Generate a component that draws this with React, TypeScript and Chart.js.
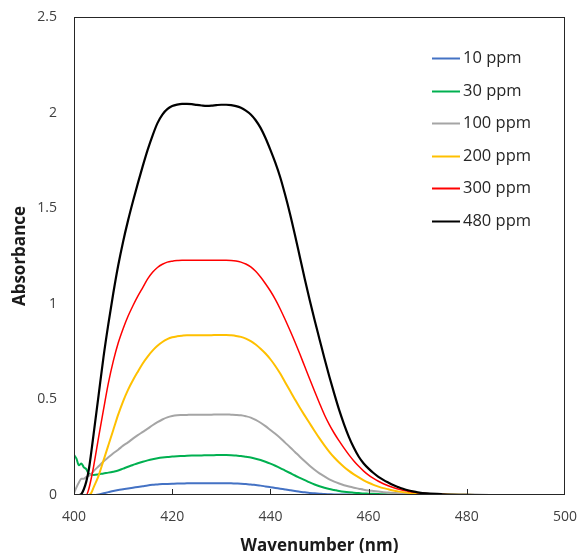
import React, { useEffect, useRef } from "react";
import { Chart, registerables } from "chart.js";

Chart.register(...registerables);

// Wavelength axis (nm)
const wavelengths: number[] = [
  400, 400.5, 401, 401.5, 402, 402.5, 403, 403.5,
  404, 405, 406, 407, 408, 409, 410, 411, 412, 413,
  414, 415, 416, 417, 418, 419, 420, 421, 422, 423,
  424, 425, 426, 427, 428, 429, 430, 431, 432, 433,
  434, 435, 436, 437, 438, 439, 440, 441, 442, 443,
  444, 445, 446, 447, 448, 449, 450, 451, 452, 453,
  454, 455, 456, 457, 458, 459, 460, 461, 462, 463,
  464, 465, 466, 467, 468, 469, 470,
  472, 475, 480, 485, 490, 495, 500,
];

const seriesLabels: string[] = ["10 ppm", "30 ppm", "100 ppm", "200 ppm", "300 ppm", "480 ppm"];
const seriesColors: string[] = ["#4472C4", "#00B050", "#A5A5A5", "#FFC000", "#FF0000", "#000000"];
const seriesWidths: number[] = [2, 2, 2, 2, 1.5, 2.2];

const ppm10: number[] = [
  0, 0, 0, 0, 0, 0, 0, 0,
  0, 0.003, 0.009, 0.015, 0.021, 0.026, 0.03, 0.034, 0.038, 0.042,
  0.046, 0.05, 0.053, 0.055, 0.057, 0.058, 0.059, 0.06, 0.06, 0.061,
  0.061, 0.061, 0.061, 0.062, 0.062, 0.062, 0.062, 0.062, 0.061, 0.06,
  0.059, 0.057, 0.055, 0.052, 0.049, 0.045, 0.041, 0.037, 0.033, 0.029,
  0.025, 0.021, 0.017, 0.014, 0.011, 0.009, 0.007, 0.005, 0.004, 0.003,
  0.003, 0.002, 0.002, 0.001, 0.001, 0.001, 0.001, 0, 0, 0,
  0, 0, 0, 0, 0, 0, 0,
  0, 0, 0, 0, 0, 0, 0,
];

const ppm30: number[] = [
  0.21, 0.19, 0.155, 0.165, 0.145, 0.135, 0.112, 0.108,
  0.105, 0.108, 0.113, 0.117, 0.122, 0.128, 0.138, 0.148, 0.157, 0.166,
  0.174, 0.181, 0.187, 0.192, 0.196, 0.199, 0.201, 0.203, 0.204, 0.205,
  0.206, 0.207, 0.207, 0.208, 0.208, 0.209, 0.209, 0.209, 0.208, 0.206,
  0.204, 0.2, 0.196, 0.19, 0.183, 0.174, 0.164, 0.153, 0.141, 0.128,
  0.115, 0.102, 0.09, 0.078, 0.066, 0.055, 0.046, 0.038, 0.031, 0.026,
  0.021, 0.017, 0.014, 0.012, 0.01, 0.008, 0.007, 0.006, 0.005, 0.004,
  0.003, 0.003, 0.002, 0.002, 0.002, 0.001, 0.001,
  0.001, 0, 0, 0, 0, 0, 0,
];

const ppm100: number[] = [
  0.01, 0.04, 0.065, 0.085, 0.085, 0.095, 0.1, 0.11,
  0.125, 0.15, 0.175, 0.197, 0.218, 0.237, 0.258, 0.275, 0.295, 0.313,
  0.33, 0.347, 0.365, 0.381, 0.395, 0.406, 0.413, 0.417, 0.418, 0.419,
  0.42, 0.42, 0.42, 0.42, 0.42, 0.421, 0.421, 0.421, 0.42, 0.419,
  0.417, 0.412, 0.405, 0.393, 0.378, 0.36, 0.34, 0.32, 0.298, 0.274,
  0.25, 0.225, 0.2, 0.176, 0.153, 0.132, 0.113, 0.097, 0.082, 0.07,
  0.06, 0.051, 0.044, 0.038, 0.033, 0.028, 0.024, 0.021, 0.018, 0.015,
  0.013, 0.011, 0.009, 0.007, 0.006, 0.005, 0.004,
  0.003, 0.002, 0.001, 0, 0, 0, 0,
];

const ppm200: number[] = [
  0, 0, 0, 0, 0, 0, 0, 0.01,
  0.04, 0.1, 0.18, 0.26, 0.34, 0.42, 0.49, 0.55, 0.6, 0.645,
  0.688, 0.724, 0.755, 0.78, 0.8, 0.815, 0.825, 0.83, 0.833, 0.835,
  0.835, 0.835, 0.835, 0.836, 0.836, 0.837, 0.837, 0.837, 0.835, 0.832,
  0.827, 0.818, 0.805, 0.787, 0.765, 0.74, 0.71, 0.675, 0.635, 0.59,
  0.545, 0.5, 0.456, 0.415, 0.375, 0.335, 0.296, 0.26, 0.226, 0.196,
  0.17, 0.147, 0.126, 0.108, 0.092, 0.077, 0.064, 0.053, 0.044, 0.036,
  0.03, 0.024, 0.019, 0.015, 0.012, 0.009, 0.007,
  0.004, 0.002, 0.001, 0, 0, 0, 0,
];

const ppm300: number[] = [
  0, 0, 0, 0, 0, 0, 0.03, 0.085,
  0.15, 0.3, 0.445, 0.585, 0.7, 0.795, 0.87, 0.935, 0.99, 1.04,
  1.085, 1.13, 1.165, 1.19, 1.207, 1.218, 1.223, 1.226, 1.228, 1.228,
  1.228, 1.228, 1.228, 1.228, 1.228, 1.228, 1.228, 1.228, 1.227, 1.224,
  1.218, 1.208, 1.193, 1.17, 1.14, 1.105, 1.067, 1.023, 0.973, 0.918,
  0.86, 0.8, 0.737, 0.672, 0.607, 0.543, 0.48, 0.42, 0.368, 0.323,
  0.283, 0.245, 0.21, 0.178, 0.15, 0.125, 0.104, 0.087, 0.072, 0.059,
  0.048, 0.039, 0.031, 0.025, 0.02, 0.015, 0.012,
  0.007, 0.003, 0.001, 0, 0, 0, 0,
];

const ppm480: number[] = [
  0, 0, 0, 0.005, 0.03, 0.07, 0.13, 0.22,
  0.32, 0.52, 0.72, 0.895, 1.055, 1.2, 1.325, 1.435, 1.535, 1.63,
  1.72, 1.805, 1.88, 1.945, 1.99, 2.018, 2.034, 2.042, 2.046, 2.046,
  2.044, 2.04, 2.037, 2.035, 2.036, 2.039, 2.041, 2.041, 2.039, 2.034,
  2.025, 2.01, 1.99, 1.96, 1.92, 1.867, 1.805, 1.738, 1.662, 1.57,
  1.47, 1.36, 1.245, 1.13, 1.02, 0.915, 0.815, 0.715, 0.62, 0.53,
  0.445, 0.37, 0.303, 0.247, 0.2, 0.165, 0.138, 0.115, 0.095, 0.079,
  0.065, 0.052, 0.042, 0.033, 0.025, 0.019, 0.014,
  0.008, 0.004, 0.001, 0, 0, 0, 0,
];

const allSeries: number[][] = [ppm10, ppm30, ppm100, ppm200, ppm300, ppm480];

const xTickValues: number[] = [400, 420, 440, 460, 480, 500];
const yTickValues: number[] = [0, 0.5, 1, 1.5, 2, 2.5];

const FONT = '"Open Sans", "Noto Sans", sans-serif';

const framePlugin = {
  id: "frameAndTicks",
  afterDraw(chart: any) {
    const { ctx, chartArea } = chart;
    const { left, right, top, bottom } = chartArea;
    const x = chart.scales.x;
    ctx.save();
    ctx.strokeStyle = "#262626";
    ctx.lineWidth = 1;
    ctx.strokeRect(left + 0.5, top + 0.5, right - left - 1, bottom - top - 1);
    ctx.beginPath();
    xTickValues.slice(1, -1).forEach((v) => {
      const px = Math.round(x.getPixelForValue(v)) + 0.5;
      ctx.moveTo(px, bottom);
      ctx.lineTo(px, bottom - 6);
    });
    ctx.stroke();
    ctx.restore();
  },
};

const legendPlugin = {
  id: "insideLegend",
  afterDraw(chart: any) {
    const { ctx, chartArea } = chart;
    const lineStart = chartArea.right - 133;
    const lineEnd = chartArea.right - 105;
    const textX = chartArea.right - 102;
    const firstY = chartArea.top + 41;
    const gap = 32.6;
    ctx.save();
    ctx.font = `16.5px ${FONT}`;
    ctx.textBaseline = "middle";
    ctx.textAlign = "left";
    chart.data.datasets.forEach((ds: any, i: number) => {
      const y = Math.round(firstY + i * gap) + 0.5;
      ctx.strokeStyle = ds.borderColor;
      ctx.lineWidth = 2;
      ctx.beginPath();
      ctx.moveTo(lineStart, y);
      ctx.lineTo(lineEnd, y);
      ctx.stroke();
      ctx.fillStyle = "#262626";
      ctx.fillText(ds.label, textX, y);
    });
    ctx.restore();
  },
};

export default function App() {
  const canvasRef = useRef<HTMLCanvasElement | null>(null);

  useEffect(() => {
    document.body.style.margin = "0";
    const canvas = canvasRef.current;
    if (!canvas) return;
    const datasets = allSeries.map((vals, i) => ({
      label: seriesLabels[i],
      data: wavelengths.map((w, j) => ({ x: w, y: vals[j] })),
      borderColor: seriesColors[i],
      backgroundColor: seriesColors[i],
      borderWidth: seriesWidths[i],
      pointRadius: 0,
      cubicInterpolationMode: "monotone" as const,
      fill: false,
      order: allSeries.length - i,
    }));

    const chart = new Chart(canvas, {
      type: "line",
      data: { datasets },
      plugins: [framePlugin, legendPlugin],
      options: {
        animation: false,
        responsive: false,
        maintainAspectRatio: false,
        layout: { padding: { top: 17, right: 16, left: 0, bottom: 0 } },
        plugins: {
          legend: { display: false },
          tooltip: { enabled: false },
        },
        scales: {
          x: {
            type: "linear",
            min: 400,
            max: 500,
            afterBuildTicks: (scale: any) => {
              scale.ticks = xTickValues.map((v) => ({ value: v }));
            },
            afterFit: (scale: any) => {
              scale.height = 58;
              scale.paddingLeft = 0;
              scale.paddingRight = 0;
            },
            grid: { display: false, drawTicks: false },
            border: { display: false },
            ticks: {
              padding: 14,
              color: "#404040",
              font: { family: FONT, size: 14 },
              maxRotation: 0,
              callback: (v: any) => String(v),
            },
            title: {
              display: true,
              text: "Wavenumber (nm)",
              color: "#1a1a1a",
              font: { family: FONT, size: 17, weight: "bold" },
              padding: { top: 0, bottom: -3 },
            },
          },
          y: {
            type: "linear",
            min: 0,
            max: 2.5,
            afterBuildTicks: (scale: any) => {
              scale.ticks = yTickValues.map((v) => ({ value: v }));
            },
            afterFit: (scale: any) => {
              scale.width = 74;
              scale.paddingTop = 0;
              scale.paddingBottom = 0;
            },
            grid: { display: false, drawTicks: false },
            border: { display: false },
            ticks: {
              padding: 17,
              color: "#404040",
              font: { family: FONT, size: 14 },
              callback: (v: any) => String(v),
            },
            title: {
              display: true,
              text: "Absorbance",
              color: "#1a1a1a",
              font: { family: FONT, size: 17, weight: "bold" },
              padding: { top: 10, bottom: 0 },
            },
          },
        },
      },
    });
    return () => {
      chart.destroy();
    };
  }, []);

  return (
    <div style={{ width: 581, height: 553, position: "relative" }}>
      <canvas ref={canvasRef} width={581} height={553} style={{ display: "block" }} />
    </div>
  );
}
